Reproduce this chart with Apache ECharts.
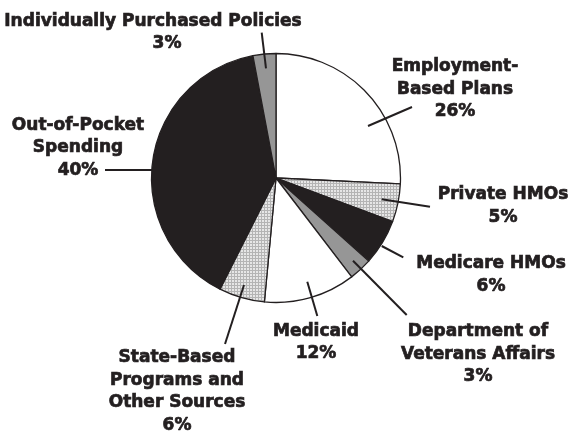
<!DOCTYPE html>
<html>
<head>
<meta charset="utf-8">
<script src="https://cdn.jsdelivr.net/npm/echarts@6/dist/echarts.min.js"></script>
<style>
  html, body { margin: 0; padding: 0; background: #ffffff; }
  #chart { width: 575px; height: 434px; }
</style>
</head>
<body>
<div id="chart"></div>
<script>
// ---- data ----
var categories = [
  'Employment-\nBased Plans',
  'Private HMOs',
  'Medicare HMOs',
  'Department of\nVeterans Affairs',
  'Medicaid',
  'State-Based\nPrograms and\nOther Sources',
  'Out-of-Pocket\nSpending',
  'Individually Purchased Policies'
];
var values = [26, 5, 6, 3, 12, 6, 40, 3];
var percentLabels = ['26%', '5%', '6%', '3%', '12%', '6%', '40%', '3%'];

// ---- styling ----
var INK = '#231f20';
function makePattern() {
  var c = document.createElement('canvas');
  c.width = 3; c.height = 3;
  var ctx = c.getContext('2d');
  ctx.fillStyle = '#e6e6e6';
  ctx.fillRect(0, 0, 3, 3);
  ctx.fillStyle = '#b4b4b4';
  ctx.fillRect(0, 0, 3, 1);
  ctx.fillRect(0, 0, 1, 3);
  return { image: c, repeat: 'repeat' };
}
var pattern = makePattern();
var sliceColors = ['#ffffff', pattern, INK, '#969696', '#ffffff', pattern, INK, '#969696'];

// label placement (text block centre) and guide line (start inside slice, end near text)
var labelPlaces = [
  { x: 455, y: 89.5, line: [[368, 126], [412, 107]] },
  { x: 503, y: 206, line: [[381.7, 199.3], [430, 206.7]] },
  { x: 491, y: 275, line: [[381.7, 246], [403.3, 257.3]] },
  { x: 478, y: 354.5, line: [[353, 260.7], [406.7, 315]] },
  { x: 316, y: 342.5, line: [[307.3, 281.7], [317.3, 316]] },
  { x: 177, y: 391.7, line: [[244, 285], [225, 344]] },
  { x: 78, y: 147.8, line: [[153, 170], [105, 170]] },
  { x: 153, y: 32.5, line: [[266, 68.3], [261.7, 32.7]] }
];

var pieData = categories.map(function (name, i) {
  return { name: name, value: values[i], itemStyle: { color: sliceColors[i] } };
});

var guideLines = labelPlaces.map(function (lp) {
  return {
    type: 'line',
    z: 100,
    silent: true,
    shape: { x1: lp.line[0][0], y1: lp.line[0][1], x2: lp.line[1][0], y2: lp.line[1][1] },
    style: { stroke: INK, lineWidth: 2 }
  };
});

var textStyle = {
  fontFamily: 'DejaVu Sans', fontWeight: 'bold', fontSize: 17, lineHeight: 22.5,
  color: INK, textBorderColor: INK, textBorderWidth: 0.7
};

var chart = echarts.init(document.getElementById('chart'), null, { renderer: 'canvas' });
chart.setOption({
  animation: false,
  backgroundColor: '#ffffff',
  graphic: guideLines,
  series: [{
    type: 'pie',
    center: [276, 178],
    radius: 124.5,
    startAngle: 90,
    clockwise: true,
    avoidLabelOverlap: false,
    data: pieData,
    itemStyle: { borderColor: INK, borderWidth: 1.3 },
    emphasis: { disabled: true },
    label: Object.assign({
      show: true,
      position: 'outside',
      align: 'center',
      formatter: function (p) {
        if (p.dataIndex === 7) {
          return '{t|' + p.name + '}\n{p|' + percentLabels[p.dataIndex] + '}';
        }
        return p.name + '\n' + percentLabels[p.dataIndex];
      },
      rich: {
        t: Object.assign({}, textStyle),
        p: Object.assign({ padding: [0, 0, 0, 28] }, textStyle)
      }
    }, textStyle),
    labelLine: { show: false },
    labelLayout: function (params) {
      var lp = labelPlaces[params.dataIndex];
      return { x: lp.x, y: lp.y, align: 'center', verticalAlign: 'middle' };
    }
  }]
});
</script>
</body>
</html>
